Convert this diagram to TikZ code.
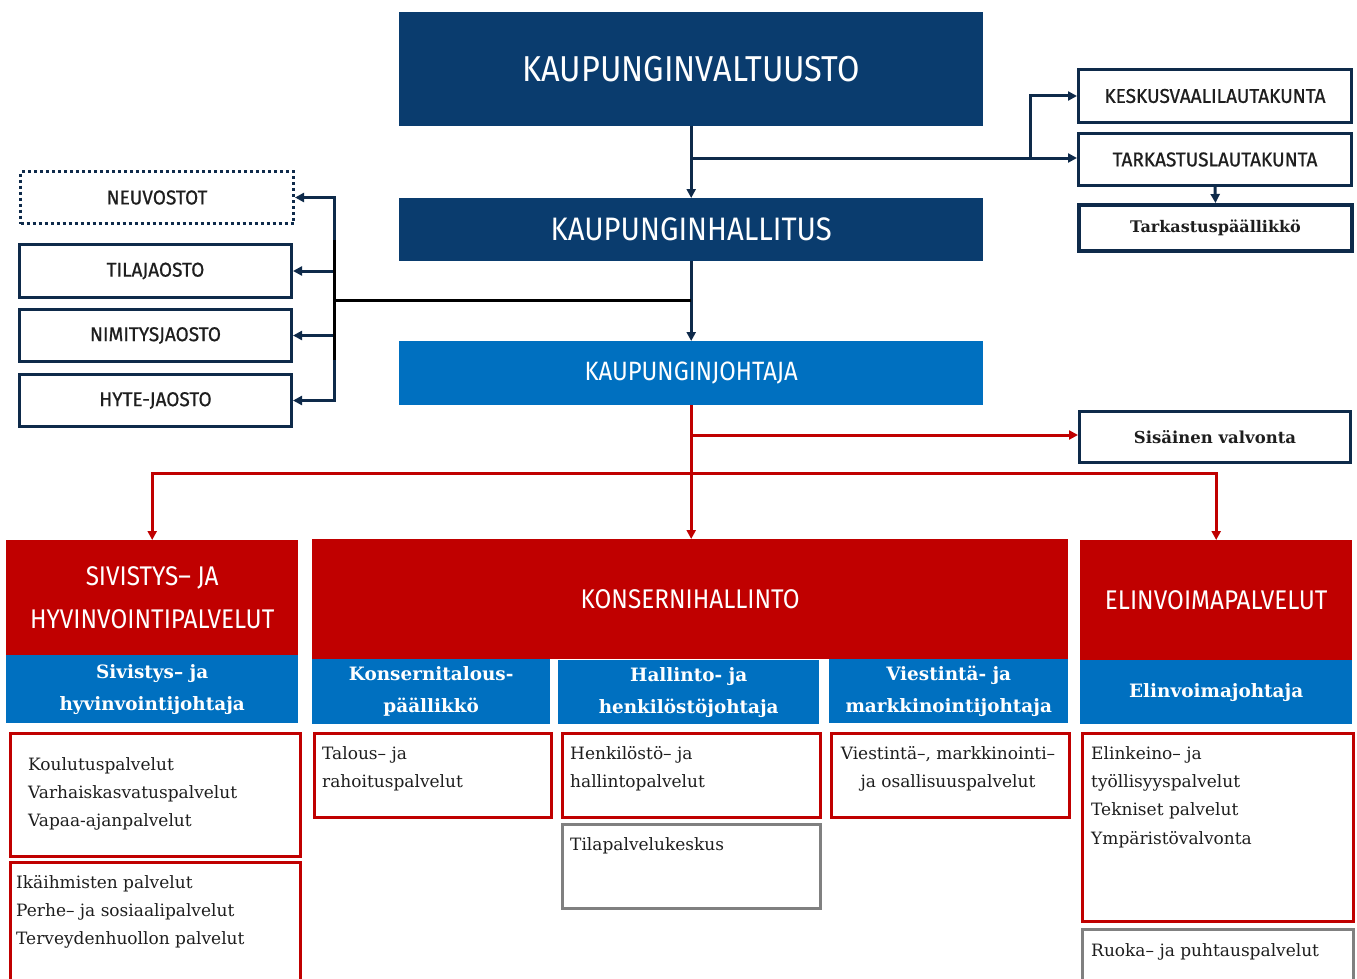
\documentclass[tikz,border=0pt]{standalone}
\usepackage{fontspec}
\setmainfont{DejaVu Serif}
\newfontfamily\hfont[FakeStretch=0.9]{Fira Sans}
\newfontfamily\lfont[FakeStretch=0.95,FakeBold=0.8]{Fira Sans}
\usetikzlibrary{arrows.meta}
\definecolor{navy}{RGB}{10,60,110}
\definecolor{bord}{RGB}{14,42,74}
\definecolor{kred}{RGB}{192,0,0}
\definecolor{kblue}{RGB}{0,112,192}
\definecolor{kgray}{RGB}{128,128,128}
\definecolor{ink}{RGB}{30,30,30}
\begin{document}
\begin{tikzpicture}[x=1pt,y=1pt,
  every node/.style={inner sep=0pt, anchor=north west},
  topbox/.style={fill=navy, text=white},
  bluebox/.style={fill=kblue, text=white},
  redhead/.style={fill=kred, text=white, align=center, font=\hfont\fontsize{27}{43}\selectfont},
  subhead/.style={fill=kblue, text=white, align=center, font=\bfseries\fontsize{18.4}{32}\selectfont},
  navybox/.style={draw=bord, line width=3pt, fill=white, text=ink, font=\lfont\fontsize{20}{20}\selectfont},
  redbox/.style={draw=kred, line width=3pt, fill=white},
  graybox/.style={draw=kgray, line width=3pt, fill=white},
  body/.style={text=ink, align=left, font=\fontsize{17}{28.3}\selectfont},
  navyarrow/.style={draw=bord, line width=3pt, -{Triangle[length=9pt,width=9pt]}},
  redarrow/.style={draw=kred, line width=3pt, -{Triangle[length=9pt,width=9pt]}},
]
\path[use as bounding box, fill=white] (0,0) rectangle (1357,-979);
\clip (0,0) rectangle (1357,-979);

% top chain
\node[topbox, minimum width=584, minimum height=114, font=\hfont\fontsize{36}{36}\selectfont] (valt) at (399,-12) {KAUPUNGINVALTUUSTO};
\node[topbox, minimum width=584, minimum height=63, font=\hfont\fontsize{32.5}{33}\selectfont] (hall) at (399,-198) {KAUPUNGINHALLITUS};
\node[bluebox, minimum width=584, minimum height=64, font=\hfont\fontsize{26.5}{27}\selectfont] (joht) at (399,-341) {KAUPUNGINJOHTAJA};

% right side boxes
\node[navybox, minimum width=273, minimum height=53] (kesk) at (1077,-68) {KESKUSVAALILAUTAKUNTA};
\node[navybox, minimum width=273, minimum height=52] (tark) at (1077,-132) {TARKASTUSLAUTAKUNTA};
\node[navybox, line width=4pt, minimum width=273, minimum height=46, font=\bfseries\fontsize{16}{16}\selectfont] (tpaal) at (1077,-203) {Tarkastuspäällikkö};
\node[navybox, minimum width=271, minimum height=51, font=\bfseries\fontsize{16.5}{17}\selectfont] (sis) at (1078,-410) {Sisäinen valvonta};

% left side boxes
\node[navybox, dash pattern=on 3pt off 3pt, minimum width=273, minimum height=52] (neuv) at (19,-170) {NEUVOSTOT};
\node[navybox, minimum width=272, minimum height=53] (tila) at (18,-243) {TILAJAOSTO};
\node[navybox, minimum width=272, minimum height=52] (nimi) at (18,-308) {NIMITYSJAOSTO};
\node[navybox, minimum width=272, minimum height=52] (hyte) at (18,-373) {HYTE-JAOSTO};

% navy connectors
\draw[navyarrow] (valt.south) -- (hall.north);
\coordinate (j1) at (691,-158);
\coordinate (k1) at (1030,-158);
\draw[navyarrow] (j1) -- (j1 -| tark.west);
\draw[navyarrow] (k1) |- (kesk.west);
\draw[navyarrow] (tark.south) -- (tpaal.north);

\coordinate (j2) at (691,-300);
\coordinate (k2) at (334,-300);
\draw[navyarrow] (hall.south) -- (joht.north);
\draw[navyarrow] (k2) |- (neuv.east);
\draw[navyarrow] (k2) |- (tila.east);
\draw[navyarrow] (k2) |- (nimi.east);
\draw[navyarrow] (k2) |- (hyte.east);
\draw[black, line width=3pt] (j2) -- (k2);
\draw[black, line width=3pt] (334,-240) -- (334,-360);

% red sections
\node[redhead, minimum width=292, minimum height=115] (siv) at (6,-540) {SIVISTYS– JA\\HYVINVOINTIPALVELUT};
\node[redhead, minimum width=756, minimum height=120] (konser) at (312,-539) {KONSERNIHALLINTO};
\node[redhead, minimum width=272, minimum height=120] (elin) at (1080,-540) {ELINVOIMAPALVELUT};

\node[subhead, minimum width=292, minimum height=68] (sivj) at (6,-655) {Sivistys– ja\\hyvinvointijohtaja};
\node[subhead, minimum width=238, minimum height=65] (kont) at (312,-659) {Konsernitalous-\\päällikkö};
\node[subhead, minimum width=261, minimum height=64] (hallj) at (558,-660) {Hallinto- ja\\henkilöstöjohtaja};
\node[subhead, minimum width=239, minimum height=64] (viej) at (829,-659) {Viestintä- ja\\markkinointijohtaja};
\node[subhead, minimum width=272, minimum height=64] (elinj) at (1080,-660) {Elinvoimajohtaja};

% red connectors
\coordinate (j3) at (691,-435);
\coordinate (j4) at (691,-473);
\draw[redarrow] (joht.south) -- (joht.south |- konser.north);
\draw[redarrow] (j3) -- (j3 -| sis.west);
\draw[redarrow] (j4) -| (siv.north);
\draw[redarrow] (j4) -| (elin.north);

% lower boxes
\node[redbox, minimum width=290, minimum height=123] (b1) at (9,-732) {};
\node[redbox, minimum width=290, minimum height=140] (b2) at (9,-861) {};
\node[redbox, minimum width=237, minimum height=84] (b3) at (313,-732) {};
\node[redbox, minimum width=258, minimum height=84] (b4) at (561,-732) {};
\node[graybox, minimum width=258, minimum height=84] (b5) at (561,-823) {};
\node[redbox, minimum width=238, minimum height=84] (b6) at (830,-732) {};
\node[redbox, minimum width=271, minimum height=188] (b7) at (1081,-732) {};
\node[graybox, minimum width=271, minimum height=70] (b8) at (1081,-928) {};

\node[body] (t1) at (28,-757) {Koulutuspalvelut\\Varhaiskasvatuspalvelut\\Vapaa-ajanpalvelut};
\node[body] (t2) at (16,-875) {Ikäihmisten palvelut\\Perhe– ja sosiaalipalvelut\\Terveydenhuollon palvelut};
\node[body] (t3) at (322,-746) {Talous– ja\\rahoituspalvelut};
\node[body] (t4) at (570,-746) {Henkilöstö– ja\\hallintopalvelut};
\node[body] (t5) at (570,-837) {Tilapalvelukeskus};
\node[body, align=center, anchor=north] (t6) at (948,-746) {Viestintä–, markkinointi–\\ja osallisuuspalvelut};
\node[body] (t7) at (1091,-746) {Elinkeino– ja\\työllisyyspalvelut\\Tekniset palvelut\\Ympäristövalvonta};
\node[body] (t8) at (1091,-943) {Ruoka– ja puhtauspalvelut};
\end{tikzpicture}
\end{document}
